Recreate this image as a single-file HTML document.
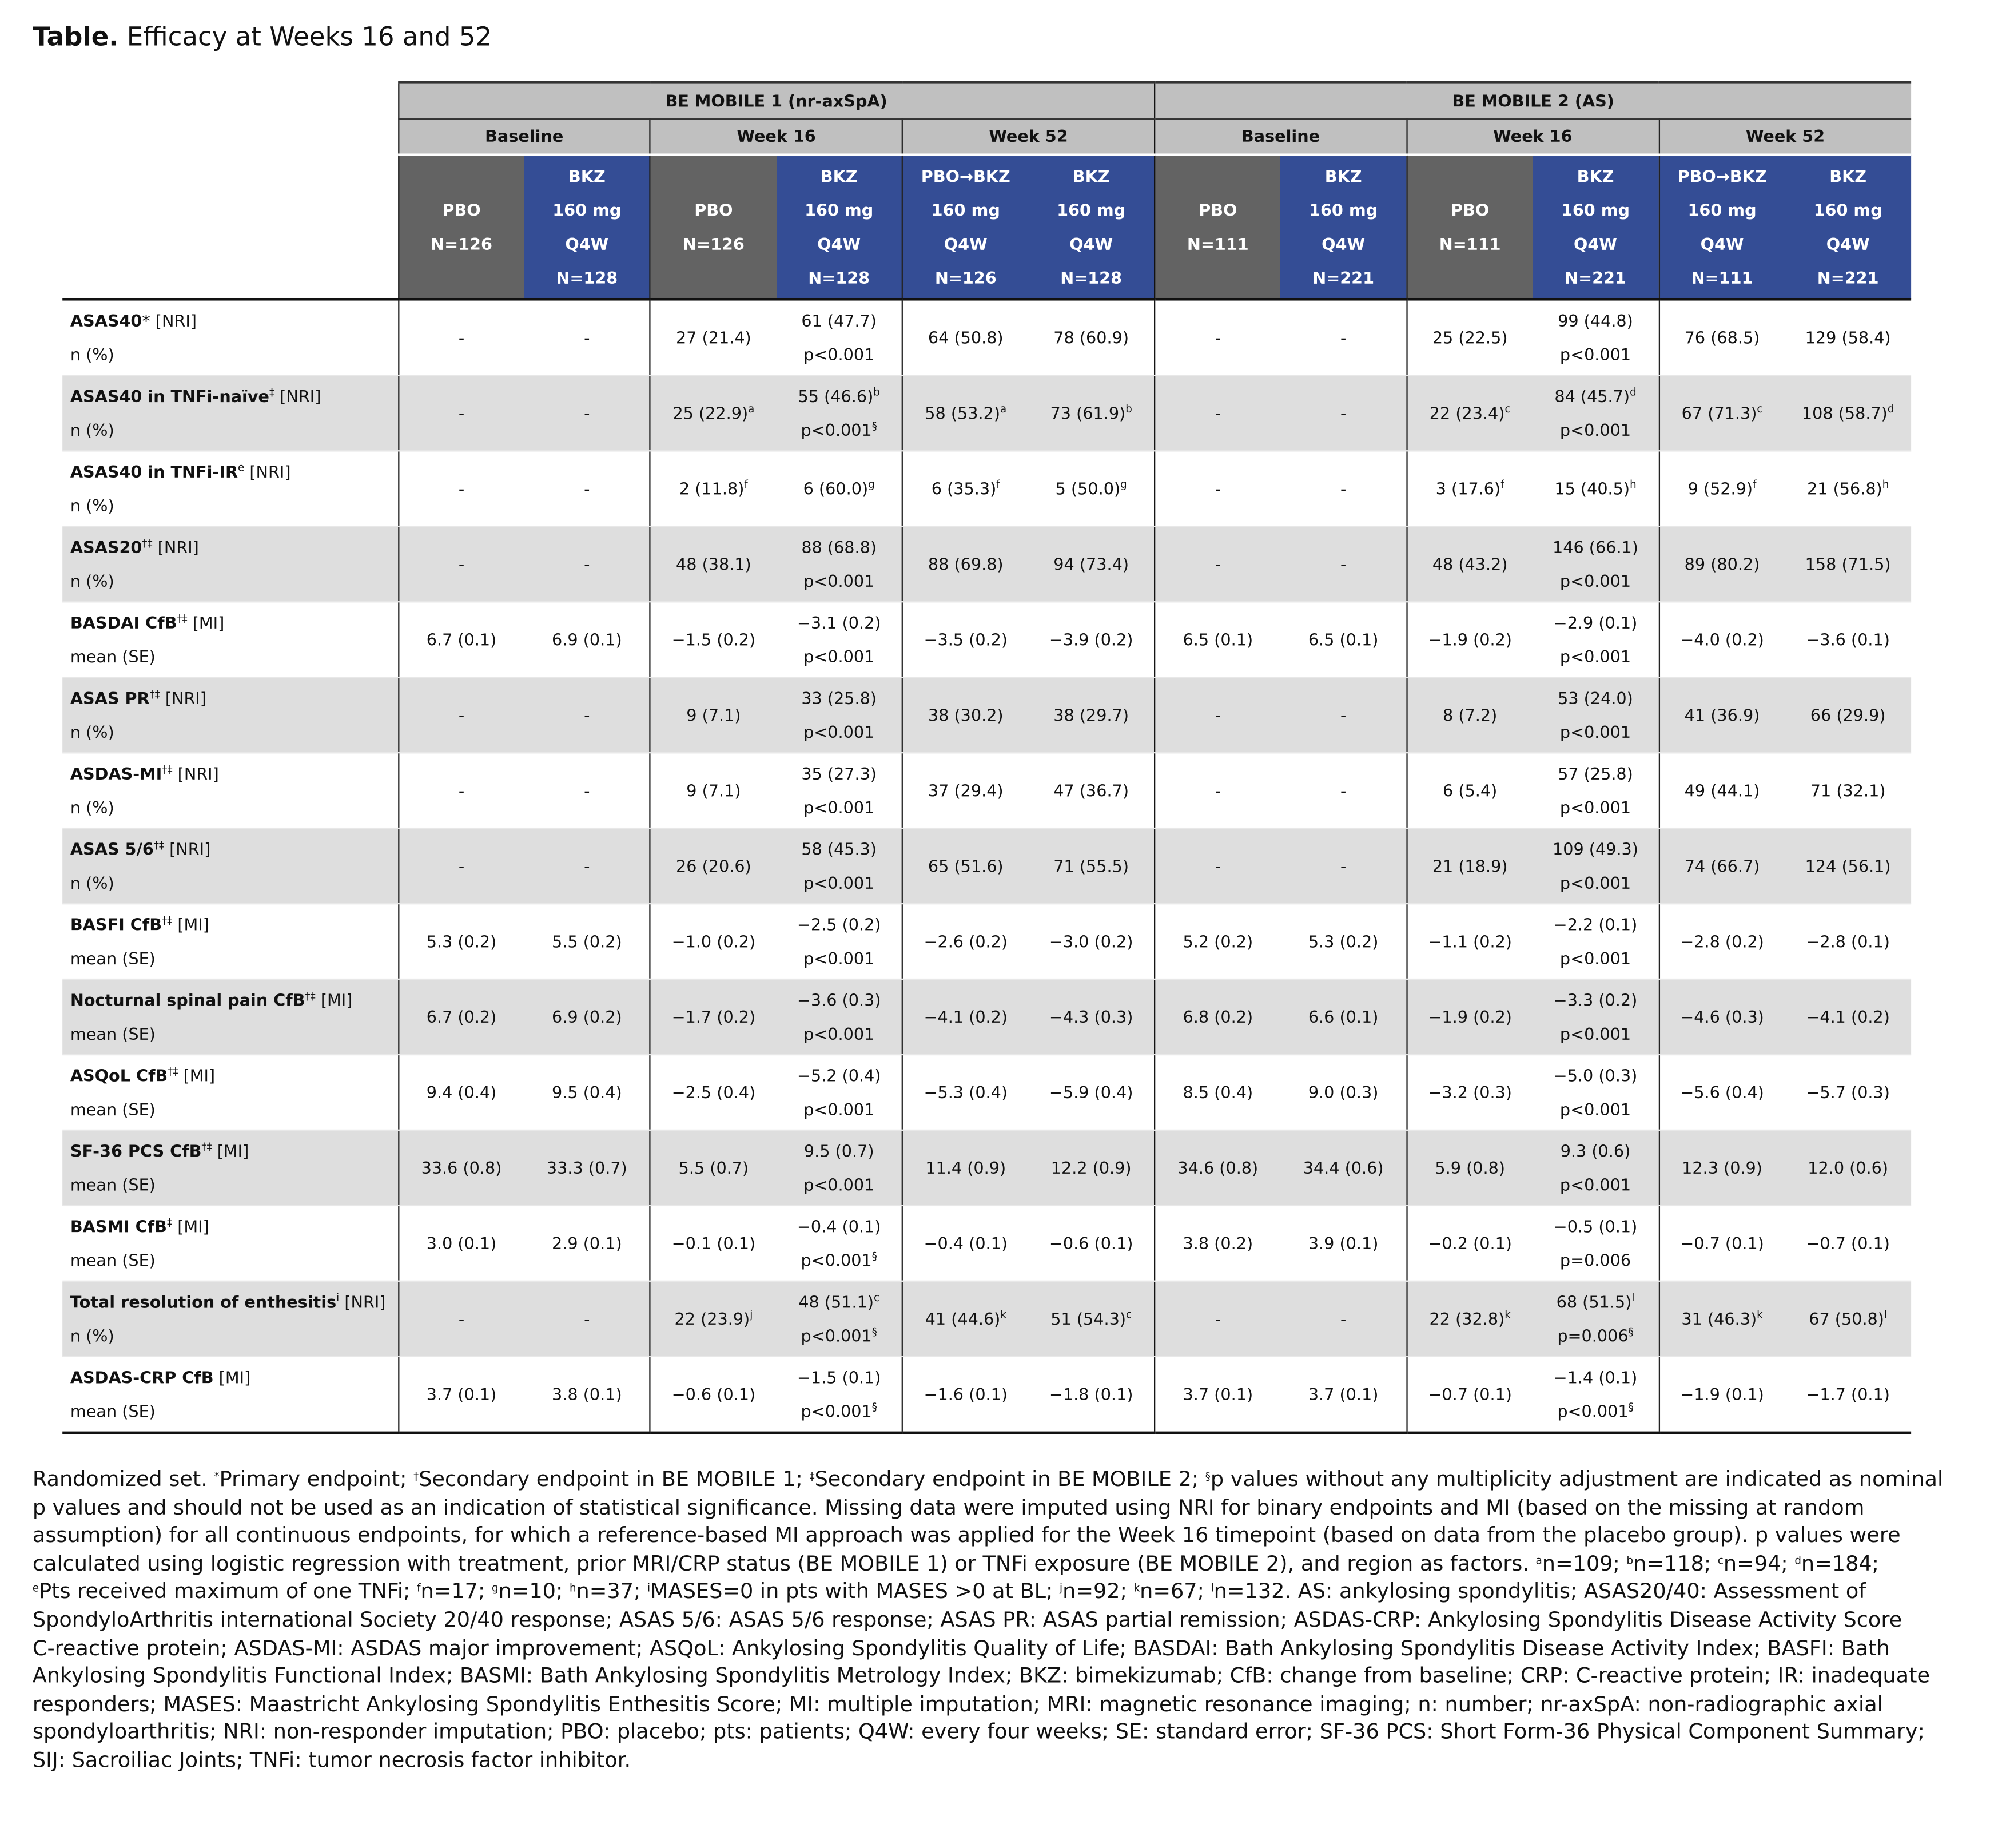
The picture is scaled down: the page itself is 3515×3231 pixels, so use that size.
<!DOCTYPE html>
<html><head><meta charset="utf-8">
<style>
html,body{margin:0;padding:0;background:#fff;}
body{width:3515px;height:3231px;overflow:hidden;position:relative;}
#wrap{position:absolute;left:0;top:0;width:1545px;height:1420px;transform:scale(2.2751);transform-origin:0 0;font-family:"DejaVu Sans","Liberation Sans",sans-serif;color:#111;}
#title{position:absolute;left:25px;top:17px;font-size:19.8px;}
table{position:absolute;left:48px;top:62px;border-collapse:collapse;table-layout:fixed;width:1421px;font-size:12.6px;}
td{padding:0;text-align:center;vertical-align:middle;line-height:26px;}
.h1 td{height:27px;line-height:22px;background:#c0c0c0;font-weight:bold;border-top:2px solid #333;border-bottom:1px solid #333;}
.h2 td{height:26px;line-height:22px;background:#c0c0c0;font-weight:bold;border-bottom:2px solid #fff;}
.h3 td{height:109px;font-weight:bold;color:#fff;border-bottom:2px solid #111;}
.g{background:#636363;}
.b{background:#344d95;}
td.e{background:#fff!important;border:none!important;}
.h3 td.e{border-bottom:2px solid #111!important;}
.r td{height:57px;border-bottom:1px solid #e8e8e8;}
.r.s td{background:#dedede;}
.r td.l{text-align:left;padding-left:6px;}
.r:last-child td{border-bottom:2px solid #111;}
.v{border-left:1px solid #222;}
.vv{border-left:1.5px solid #111;}
sup{font-size:8px;line-height:0;vertical-align:5px;}
#fn{position:absolute;left:25px;top:1126px;font-size:16.1px;line-height:21.6px;white-space:nowrap;}
</style></head><body><div id="wrap">
<div id="title"><b>Table.</b> Efficacy at Weeks 16 and 52</div>
<table>
<colgroup><col style="width:258px"><col span="12" style="width:96.9px"></colgroup>
<tr class="h1"><td class="e"></td><td colspan="6" class="v">BE MOBILE 1 (nr-axSpA)</td><td colspan="6" class="vv">BE MOBILE 2 (AS)</td></tr>
<tr class="h2"><td class="e"></td><td colspan="2" class="v">Baseline</td><td colspan="2" class="v">Week 16</td><td colspan="2" class="v">Week 52</td><td colspan="2" class="vv">Baseline</td><td colspan="2" class="v">Week 16</td><td colspan="2" class="v">Week 52</td></tr>
<tr class="h3"><td class="e"></td>
<td class="g v">PBO<br>N=126</td><td class="b">BKZ<br>160 mg<br>Q4W<br>N=128</td>
<td class="g v">PBO<br>N=126</td><td class="b">BKZ<br>160 mg<br>Q4W<br>N=128</td>
<td class="b v">PBO→BKZ<br>160 mg<br>Q4W<br>N=126</td><td class="b">BKZ<br>160 mg<br>Q4W<br>N=128</td>
<td class="g vv">PBO<br>N=111</td><td class="b">BKZ<br>160 mg<br>Q4W<br>N=221</td>
<td class="g v">PBO<br>N=111</td><td class="b">BKZ<br>160 mg<br>Q4W<br>N=221</td>
<td class="b v">PBO→BKZ<br>160 mg<br>Q4W<br>N=111</td><td class="b">BKZ<br>160 mg<br>Q4W<br>N=221</td></tr>

<tr class="r"><td class="l"><b>ASAS40</b>* [NRI]<br>n (%)</td><td class="v">-</td><td>-</td><td class="v">27 (21.4)</td><td>61 (47.7)<br>p&lt;0.001</td><td class="v">64 (50.8)</td><td>78 (60.9)</td><td class="vv">-</td><td>-</td><td class="v">25 (22.5)</td><td>99 (44.8)<br>p&lt;0.001</td><td class="v">76 (68.5)</td><td>129 (58.4)</td></tr>
<tr class="r s"><td class="l"><b>ASAS40 in TNFi-naïve</b><sup>‡</sup> [NRI]<br>n (%)</td><td class="v">-</td><td>-</td><td class="v">25 (22.9)<sup>a</sup></td><td>55 (46.6)<sup>b</sup><br>p&lt;0.001<sup>§</sup></td><td class="v">58 (53.2)<sup>a</sup></td><td>73 (61.9)<sup>b</sup></td><td class="vv">-</td><td>-</td><td class="v">22 (23.4)<sup>c</sup></td><td>84 (45.7)<sup>d</sup><br>p&lt;0.001</td><td class="v">67 (71.3)<sup>c</sup></td><td>108 (58.7)<sup>d</sup></td></tr>
<tr class="r"><td class="l"><b>ASAS40 in TNFi-IR</b><sup>e</sup> [NRI]<br>n (%)</td><td class="v">-</td><td>-</td><td class="v">2 (11.8)<sup>f</sup></td><td>6 (60.0)<sup>g</sup></td><td class="v">6 (35.3)<sup>f</sup></td><td>5 (50.0)<sup>g</sup></td><td class="vv">-</td><td>-</td><td class="v">3 (17.6)<sup>f</sup></td><td>15 (40.5)<sup>h</sup></td><td class="v">9 (52.9)<sup>f</sup></td><td>21 (56.8)<sup>h</sup></td></tr>
<tr class="r s"><td class="l"><b>ASAS20</b><sup>†‡</sup> [NRI]<br>n (%)</td><td class="v">-</td><td>-</td><td class="v">48 (38.1)</td><td>88 (68.8)<br>p&lt;0.001</td><td class="v">88 (69.8)</td><td>94 (73.4)</td><td class="vv">-</td><td>-</td><td class="v">48 (43.2)</td><td>146 (66.1)<br>p&lt;0.001</td><td class="v">89 (80.2)</td><td>158 (71.5)</td></tr>
<tr class="r"><td class="l"><b>BASDAI CfB</b><sup>†‡</sup> [MI]<br>mean (SE)</td><td class="v">6.7 (0.1)</td><td>6.9 (0.1)</td><td class="v">−1.5 (0.2)</td><td>−3.1 (0.2)<br>p&lt;0.001</td><td class="v">−3.5 (0.2)</td><td>−3.9 (0.2)</td><td class="vv">6.5 (0.1)</td><td>6.5 (0.1)</td><td class="v">−1.9 (0.2)</td><td>−2.9 (0.1)<br>p&lt;0.001</td><td class="v">−4.0 (0.2)</td><td>−3.6 (0.1)</td></tr>
<tr class="r s"><td class="l"><b>ASAS PR</b><sup>†‡</sup> [NRI]<br>n (%)</td><td class="v">-</td><td>-</td><td class="v">9 (7.1)</td><td>33 (25.8)<br>p&lt;0.001</td><td class="v">38 (30.2)</td><td>38 (29.7)</td><td class="vv">-</td><td>-</td><td class="v">8 (7.2)</td><td>53 (24.0)<br>p&lt;0.001</td><td class="v">41 (36.9)</td><td>66 (29.9)</td></tr>
<tr class="r"><td class="l"><b>ASDAS-MI</b><sup>†‡</sup> [NRI]<br>n (%)</td><td class="v">-</td><td>-</td><td class="v">9 (7.1)</td><td>35 (27.3)<br>p&lt;0.001</td><td class="v">37 (29.4)</td><td>47 (36.7)</td><td class="vv">-</td><td>-</td><td class="v">6 (5.4)</td><td>57 (25.8)<br>p&lt;0.001</td><td class="v">49 (44.1)</td><td>71 (32.1)</td></tr>
<tr class="r s"><td class="l"><b>ASAS 5/6</b><sup>†‡</sup> [NRI]<br>n (%)</td><td class="v">-</td><td>-</td><td class="v">26 (20.6)</td><td>58 (45.3)<br>p&lt;0.001</td><td class="v">65 (51.6)</td><td>71 (55.5)</td><td class="vv">-</td><td>-</td><td class="v">21 (18.9)</td><td>109 (49.3)<br>p&lt;0.001</td><td class="v">74 (66.7)</td><td>124 (56.1)</td></tr>
<tr class="r"><td class="l"><b>BASFI CfB</b><sup>†‡</sup> [MI]<br>mean (SE)</td><td class="v">5.3 (0.2)</td><td>5.5 (0.2)</td><td class="v">−1.0 (0.2)</td><td>−2.5 (0.2)<br>p&lt;0.001</td><td class="v">−2.6 (0.2)</td><td>−3.0 (0.2)</td><td class="vv">5.2 (0.2)</td><td>5.3 (0.2)</td><td class="v">−1.1 (0.2)</td><td>−2.2 (0.1)<br>p&lt;0.001</td><td class="v">−2.8 (0.2)</td><td>−2.8 (0.1)</td></tr>
<tr class="r s"><td class="l"><b>Nocturnal spinal pain CfB</b><sup>†‡</sup> [MI]<br>mean (SE)</td><td class="v">6.7 (0.2)</td><td>6.9 (0.2)</td><td class="v">−1.7 (0.2)</td><td>−3.6 (0.3)<br>p&lt;0.001</td><td class="v">−4.1 (0.2)</td><td>−4.3 (0.3)</td><td class="vv">6.8 (0.2)</td><td>6.6 (0.1)</td><td class="v">−1.9 (0.2)</td><td>−3.3 (0.2)<br>p&lt;0.001</td><td class="v">−4.6 (0.3)</td><td>−4.1 (0.2)</td></tr>
<tr class="r"><td class="l"><b>ASQoL CfB</b><sup>†‡</sup> [MI]<br>mean (SE)</td><td class="v">9.4 (0.4)</td><td>9.5 (0.4)</td><td class="v">−2.5 (0.4)</td><td>−5.2 (0.4)<br>p&lt;0.001</td><td class="v">−5.3 (0.4)</td><td>−5.9 (0.4)</td><td class="vv">8.5 (0.4)</td><td>9.0 (0.3)</td><td class="v">−3.2 (0.3)</td><td>−5.0 (0.3)<br>p&lt;0.001</td><td class="v">−5.6 (0.4)</td><td>−5.7 (0.3)</td></tr>
<tr class="r s"><td class="l"><b>SF-36 PCS CfB</b><sup>†‡</sup> [MI]<br>mean (SE)</td><td class="v">33.6 (0.8)</td><td>33.3 (0.7)</td><td class="v">5.5 (0.7)</td><td>9.5 (0.7)<br>p&lt;0.001</td><td class="v">11.4 (0.9)</td><td>12.2 (0.9)</td><td class="vv">34.6 (0.8)</td><td>34.4 (0.6)</td><td class="v">5.9 (0.8)</td><td>9.3 (0.6)<br>p&lt;0.001</td><td class="v">12.3 (0.9)</td><td>12.0 (0.6)</td></tr>
<tr class="r"><td class="l"><b>BASMI CfB</b><sup>‡</sup> [MI]<br>mean (SE)</td><td class="v">3.0 (0.1)</td><td>2.9 (0.1)</td><td class="v">−0.1 (0.1)</td><td>−0.4 (0.1)<br>p&lt;0.001<sup>§</sup></td><td class="v">−0.4 (0.1)</td><td>−0.6 (0.1)</td><td class="vv">3.8 (0.2)</td><td>3.9 (0.1)</td><td class="v">−0.2 (0.1)</td><td>−0.5 (0.1)<br>p=0.006</td><td class="v">−0.7 (0.1)</td><td>−0.7 (0.1)</td></tr>
<tr class="r s"><td class="l"><b>Total resolution of enthesitis</b><sup>i</sup> [NRI]<br>n (%)</td><td class="v">-</td><td>-</td><td class="v">22 (23.9)<sup>j</sup></td><td>48 (51.1)<sup>c</sup><br>p&lt;0.001<sup>§</sup></td><td class="v">41 (44.6)<sup>k</sup></td><td>51 (54.3)<sup>c</sup></td><td class="vv">-</td><td>-</td><td class="v">22 (32.8)<sup>k</sup></td><td>68 (51.5)<sup>l</sup><br>p=0.006<sup>§</sup></td><td class="v">31 (46.3)<sup>k</sup></td><td>67 (50.8)<sup>l</sup></td></tr>
<tr class="r"><td class="l"><b>ASDAS-CRP CfB</b> [MI]<br>mean (SE)</td><td class="v">3.7 (0.1)</td><td>3.8 (0.1)</td><td class="v">−0.6 (0.1)</td><td>−1.5 (0.1)<br>p&lt;0.001<sup>§</sup></td><td class="v">−1.6 (0.1)</td><td>−1.8 (0.1)</td><td class="vv">3.7 (0.1)</td><td>3.7 (0.1)</td><td class="v">−0.7 (0.1)</td><td>−1.4 (0.1)<br>p&lt;0.001<sup>§</sup></td><td class="v">−1.9 (0.1)</td><td>−1.7 (0.1)</td></tr>
</table>
<div id="fn">
Randomized set. <sup>*</sup>Primary endpoint; <sup>†</sup>Secondary endpoint in BE MOBILE 1; <sup>‡</sup>Secondary endpoint in BE MOBILE 2; <sup>§</sup>p values without any multiplicity adjustment are indicated as nominal<br>
p values and should not be used as an indication of statistical significance. Missing data were imputed using NRI for binary endpoints and MI (based on the missing at random<br>
assumption) for all continuous endpoints, for which a reference-based MI approach was applied for the Week 16 timepoint (based on data from the placebo group). p values were<br>
calculated using logistic regression with treatment, prior MRI/CRP status (BE MOBILE 1) or TNFi exposure (BE MOBILE 2), and region as factors. <sup>a</sup>n=109; <sup>b</sup>n=118; <sup>c</sup>n=94; <sup>d</sup>n=184;<br>
<sup>e</sup>Pts received maximum of one TNFi; <sup>f</sup>n=17; <sup>g</sup>n=10; <sup>h</sup>n=37; <sup>i</sup>MASES=0 in pts with MASES &gt;0 at BL; <sup>j</sup>n=92; <sup>k</sup>n=67; <sup>l</sup>n=132. AS: ankylosing spondylitis; ASAS20/40: Assessment of<br>
SpondyloArthritis international Society 20/40 response; ASAS 5/6: ASAS 5/6 response; ASAS PR: ASAS partial remission; ASDAS-CRP: Ankylosing Spondylitis Disease Activity Score<br>
C-reactive protein; ASDAS-MI: ASDAS major improvement; ASQoL: Ankylosing Spondylitis Quality of Life; BASDAI: Bath Ankylosing Spondylitis Disease Activity Index; BASFI: Bath<br>
Ankylosing Spondylitis Functional Index; BASMI: Bath Ankylosing Spondylitis Metrology Index; BKZ: bimekizumab; CfB: change from baseline; CRP: C-reactive protein; IR: inadequate<br>
responders; MASES: Maastricht Ankylosing Spondylitis Enthesitis Score; MI: multiple imputation; MRI: magnetic resonance imaging; n: number; nr-axSpA: non-radiographic axial<br>
spondyloarthritis; NRI: non-responder imputation; PBO: placebo; pts: patients; Q4W: every four weeks; SE: standard error; SF-36 PCS: Short Form-36 Physical Component Summary;<br>
SIJ: Sacroiliac Joints; TNFi: tumor necrosis factor inhibitor.
</div>
</div></body></html>
